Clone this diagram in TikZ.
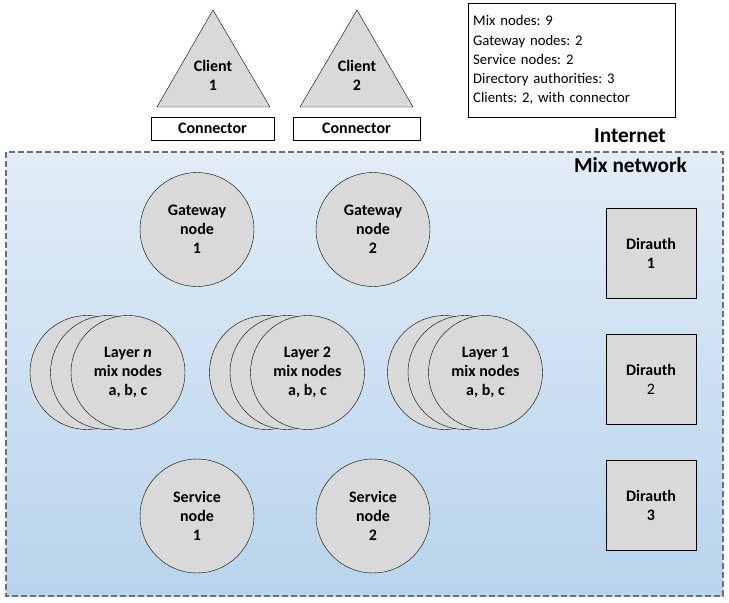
\documentclass[tikz,border=0pt]{standalone}
\usepackage{fontspec}
\setmainfont{Carlito}
\usetikzlibrary{positioning}
\frenchspacing

\definecolor{nodegray}{HTML}{D9D9D9}
\definecolor{mixtop}{HTML}{F6F9FD}
\definecolor{mixmid}{HTML}{B3D0EB}
\definecolor{mixbot}{HTML}{C4DBEF}
\definecolor{dashgray}{HTML}{6E6E6E}

\pgfdeclareverticalshading{mixbg}{100bp}{color(0bp)=(mixbot); color(18bp)=(mixmid); color(100bp)=(mixtop)}

\tikzset{
  txt/.style={font=\fontsize{16}{19}\selectfont\bfseries,align=center,inner sep=0pt},
  mixnode/.style={circle,draw,fill=nodegray,minimum size=114pt,inner sep=0pt,txt},
  dirbox/.style={rectangle,draw,fill=nodegray,minimum size=90pt,inner sep=0pt,txt},
  connbox/.style={rectangle,draw,fill=white,minimum height=23pt,inner sep=0pt,txt}
}

\begin{document}
\begin{tikzpicture}[x=1pt,y=-1pt]

            \useasboundingbox (0,0) rectangle (729,603);

            % mix network area
            \shade[shading=mixbg] (6,152) rectangle (723,596);
            \draw[dashgray,line width=1.2pt,dash pattern=on 6pt off 3pt] (6,152) rectangle (723,596);

            \node[font=\fontsize{21.3}{24}\selectfont\bfseries] (internet) at (630,136) {Internet};
            \node[font=\fontsize{21.3}{24}\selectfont\bfseries] (mixnet) at (630.5,165) {Mix network};

            % clients
            \draw[fill=nodegray] (213,10) -- (270,107) -- (157,107) -- cycle;
            \draw[fill=nodegray] (357,10) -- (413,107) -- (300,107) -- cycle;
            \node[txt] (client1) at (213,75) {Client\\1};
            \node[txt] (client2) at (357,75) {Client\\2};

            \node[connbox,minimum width=123pt] (conn1) at (212.5,128.5) {Connector};
            \node[connbox,minimum width=127pt] (conn2) at (356.5,128.5) {Connector};

            % legend
            \node[draw,fill=white,anchor=north west,minimum width=207pt,minimum height=114pt,
                  text width=197pt,inner sep=5pt,align=left,font=\fontsize{14.7}{19.2}\selectfont]
                  (legend) at (468,3)
                  {Mix nodes: 9\\Gateway nodes: 2\\Service nodes: 2\\Directory authorities: 3\\Clients: 2, with connector};

            % gateway nodes
            \node[mixnode] (gw1) at (197,229.5) {Gateway\\node\\1};
            \node[mixnode] (gw2) at (373,229.5) {Gateway\\node\\2};

            % mix layers
            \node[mixnode] (layerna) at (87,372.5) {};
            \node[mixnode] (layernb) at (107.5,372.5) {};
            \node[mixnode] (layernc) at (128,372.5) {Layer \textit{n}\\mix nodes\\a, b, c};

            \node[mixnode] (layertwoa) at (266.5,372.5) {};
            \node[mixnode] (layertwob) at (287,372.5) {};
            \node[mixnode] (layertwoc) at (307.5,372.5) {Layer 2\\mix nodes\\a, b, c};

            \node[mixnode] (layeronea) at (444.5,372.5) {};
            \node[mixnode] (layeroneb) at (465,372.5) {};
            \node[mixnode] (layeronec) at (485.5,372.5) {Layer 1\\mix nodes\\a, b, c};

            % service nodes
            \node[mixnode] (sv1) at (197,516) {Service\\node\\1};
            \node[mixnode] (sv2) at (373,516) {Service\\node\\2};

            % directory authorities
            \node[dirbox] (dir1) at (651,253.5) {Dirauth\\1};
            \node[dirbox] (dir2) at (651,379) {Dirauth\\{\mdseries 2}};
            \node[dirbox] (dir3) at (651,505) {Dirauth\\3};

        \end{tikzpicture}
\end{document}
